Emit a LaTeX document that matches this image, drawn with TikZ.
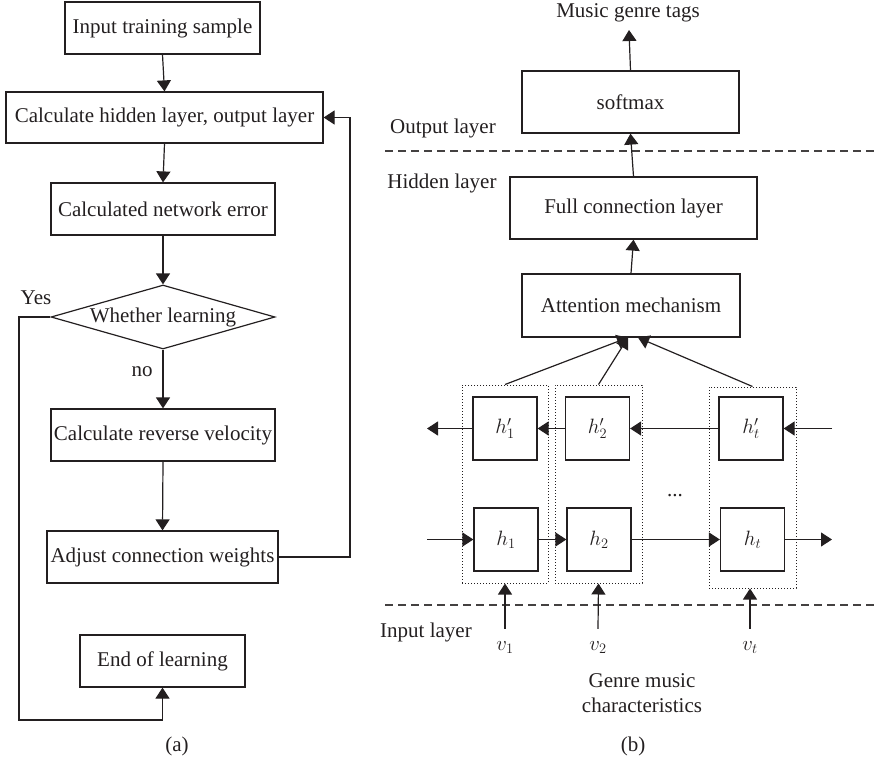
\documentclass[tikz,border=0pt]{standalone}
\usepackage{fontspec}
\setmainfont{Liberation Serif}
\usetikzlibrary{arrows.meta,shapes.geometric}
\definecolor{ink}{RGB}{35,31,32}
\begin{document}
\begin{tikzpicture}[x=1pt,y=-1pt,
  every node/.style={font=\fontsize{21}{25}\selectfont, text=ink},
  box/.style={draw=ink, line width=1.2pt, inner sep=0pt, rectangle},
  arr/.style={draw=ink, line width=1.2pt, -{Triangle[length=11pt,width=14pt]}},
  dotbox/.style={draw=ink, line width=1pt, dotted, inner sep=0pt, rectangle},
  dashln/.style={draw=ink!85, line width=1.1pt, dash pattern=on 8pt off 5pt},
  lbl/.style={inner sep=0pt}]
\useasboundingbox (0,0) rectangle (879,761);
% ---------------- (a) ----------------
\node[box, minimum width=195pt, minimum height=52pt] (in) at (162.5,28) {Input training sample};
\node[box, minimum width=317pt, minimum height=51pt] (calc) at (164.5,117.5) {Calculate hidden layer, output layer};
\node[box, minimum width=224pt, minimum height=52pt] (err) at (163,209) {Calculated network error};
\node[draw=ink, line width=1.2pt, diamond, inner sep=0pt, minimum width=224pt, minimum height=64pt] (dec) at (163,317) {\makebox[0pt]{Whether learning}};
\node[box, minimum width=224pt, minimum height=52pt] (rev) at (163,435) {Calculate reverse velocity};
\node[box, minimum width=231pt, minimum height=52pt] (adj) at (162.5,557) {Adjust connection weights};
\node[box, minimum width=165pt, minimum height=52pt] (end) at (162.5,661) {End of learning};
\node[lbl] (yes) at (36,298) {Yes};
\node[lbl] (no) at (142,372) {no};
\node[lbl] (capa) at (177,746) {(a)};

\draw[arr] (in.south) -- (calc.north);
\draw[arr] (calc.south) -- (err.north);
\draw[arr] (err.south) -- (dec.north);
\draw[arr] (dec.south) -- (rev.north);
\draw[arr] (rev.south) -- (adj.north);
\draw[arr] (adj.east) -- (350,557) -- (350,117.5) -- (calc.east);
\draw[arr] (dec.west) -- (19,317) -- (19,720) -- (162.5,720) -- (end.south);

% ---------------- (b) ----------------
\node[lbl] (tags) at (628,13) {Music genre tags};
\node[box, minimum width=217pt, minimum height=62pt] (soft) at (630.5,102) {softmax};
\node[lbl] (outlab) at (443,128) {Output layer};
\node[lbl] (hidlab) at (442,183) {Hidden layer};
\node[box, minimum width=247pt, minimum height=62pt] (full) at (633.5,208) {Full connection layer};
\node[box, minimum width=218pt, minimum height=63pt] (att) at (631,305.5) {Attention mechanism};

\draw[dashln] (385,151) -- (879,151);
\draw[dashln] (385,605) -- (879,605);

\node[dotbox, minimum width=86pt, minimum height=198pt] (d1) at (505,484) {};
\node[dotbox, minimum width=87pt, minimum height=198pt] (d2) at (598.5,484) {};
\node[dotbox, minimum width=87pt, minimum height=201pt] (d3) at (752.5,487.5) {};

\node[box, minimum width=64pt, minimum height=63pt] (hp1) at (505,428.5) {$h'_1$};
\node[box, minimum width=64pt, minimum height=63pt] (hp2) at (597.5,428.5) {$h'_2$};
\node[box, minimum width=64pt, minimum height=63pt] (hpt) at (751,428.5) {$h'_t$};
\node[box, minimum width=64pt, minimum height=63pt] (h1) at (506,539.5) {$h_1$};
\node[box, minimum width=64pt, minimum height=63pt] (h2) at (599,539.5) {$h_2$};
\node[box, minimum width=64pt, minimum height=63pt] (ht) at (752.5,539.5) {$h_t$};

\coordinate (lout) at (427,428.5);
\coordinate (rin) at (832,428.5);
\coordinate (lin) at (427,539.5);
\coordinate (rout) at (832,539.5);

\draw[arr] (hp1.west) -- (lout);
\draw[arr] (hp2.west) -- (hp1.east);
\draw[arr] (hpt.west) -- (hp2.east);
\draw[arr] (rin) -- (hpt.east);

\draw[arr] (lin) -- (h1.west);
\draw[arr] (h1.east) -- (h2.west);
\draw[arr] (h2.east) -- (ht.west);
\draw[arr] (ht.east) -- (rout);

\node[lbl] (dots) at (675,496) {...};

\draw[arr] (soft.north) -- (629,30);
\draw[arr] (full.north) -- (soft.south);
\draw[arr] (att.north) -- (full.south);
\draw[arr] (d1.north) -- ([xshift=-3pt]att.south);
\draw[arr] (d2.north) -- ([xshift=-3pt]att.south);
\draw[arr] (d3.north) -- ([xshift=7pt]att.south);

\node[lbl] (inlab) at (426,632) {Input layer};
\node[lbl, anchor=base] (v1) at (505,650) {$v_1$};
\node[lbl, anchor=base] (v2) at (598,650) {$v_2$};
\node[lbl, anchor=base] (vt) at (750,650) {$v_t$};
\draw[arr] ([yshift=12pt]v1.north) -- (d1.south);
\draw[arr] ([yshift=12pt]v2.north) -- (d2.south);
\draw[arr] ([yshift=12pt]vt.north) -- (vt |- d3.south);

\node[lbl, align=center] (genre) at (642,693) {Genre music\\characteristics};
\node[lbl] (capb) at (633,746) {(b)};
\end{tikzpicture}
\end{document}
